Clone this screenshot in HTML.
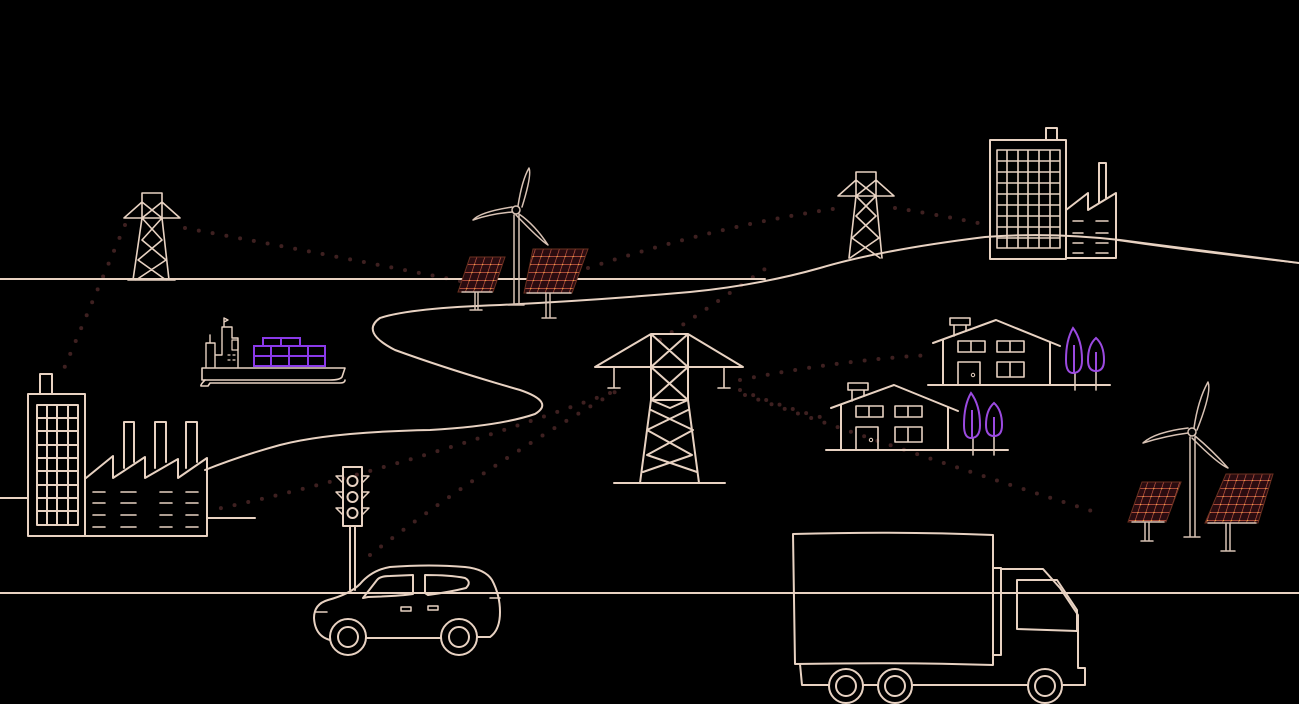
<!DOCTYPE html>
<html><head><meta charset="utf-8"><style>html,body{margin:0;padding:0;background:#000;width:1299px;height:704px;overflow:hidden}</style></head>
<body>
<svg width="1299" height="704" viewBox="0 0 1299 704" xmlns="http://www.w3.org/2000/svg">
<defs>
<pattern id="pg" width="8" height="8" patternUnits="userSpaceOnUse" patternTransform="skewX(-18)">
<rect width="8" height="8" fill="#2a0c10"/>
<path d="M0 0H8M0 0V8" stroke="#d8604a" stroke-width="1.3"/>
<circle cx="0" cy="0" r="1.3" fill="#f0b040"/>
</pattern>
</defs>
<rect width="1299" height="704" fill="#000"/>

<g fill="none" stroke="#3e2020" stroke-width="4" stroke-linecap="round" stroke-dasharray="0 14">
<path d="M125 225 L60 378"/>
<path d="M185 228 Q330 255 470 283"/>
<path d="M588 268 Q720 225 840 208"/>
<path d="M895 208 Q940 215 988 225"/>
<path d="M610 393 Q400 470 212 510"/>
<path d="M370 555 Q480 470 615 392"/>
<path d="M660 340 Q720 300 775 262"/>
<path d="M740 380 Q840 360 930 355"/>
<path d="M740 390 Q790 410 832 420"/>
<path d="M745 395 Q930 460 1095 512"/>
</g>

<g fill="none" stroke="#e8d2c2" stroke-width="2" stroke-linejoin="round" stroke-linecap="round">
<path d="M0 279 L765 279"/>
<path d="M1299 263 Q1200 250 1120 240 Q1050 232 985 237 Q880 250 820 268 Q760 285 690 292 Q600 300 500 305 Q410 308 380 318 Q360 332 395 350 Q450 370 520 390 Q555 402 535 414 Q500 426 430 430 Q330 432 280 445 Q240 456 205 470"/>
<path d="M0 498 L28 498"/><path d="M207 518 L255 518"/>
<path d="M0 593 L1299 593"/>

<path d="M28 394 L85 394 L85 536 L28 536 Z"/>
<path d="M40 394 V374 H52 V394"/>
<path d="M37 405 H78 V525 H37 Z M47 405V525 M57 405V525 M68 405V525 M37 418H78 M37 431H78 M37 445H78 M37 458H78 M37 471H78 M37 485H78 M37 498H78 M37 511H78"/>
<path d="M86 478 L113 456 L113 478 L145 457 L145 478 L178 459 L178 478 L207 458 L207 536 L85 536"/>
<path d="M124 468 V422 H134 V462 M155 468 V422 H166 V462 M186 468 V422 H197 V462"/>
<path d="M93 492h12M121 492h15M160 492h12M186 492h12M93 503h12M121 503h15M160 503h12M186 503h12M93 515h12M121 515h15M160 515h12M186 515h12M93 527h12M121 527h15M160 527h12M186 527h12" stroke-width="1.6"/>

<path d="M202 368 H345 L342 377 Q340 380 330 380 H202 Z" stroke-width="1.6"/>
<path d="M205 380 Q200 385 201 386 L208 386 L210 383 H340 Q345 383 345 380" stroke-width="1.6"/>
<path d="M206 367 V343 H210 V335 M210 343 H215 V367 M216 355 H222 V327 H232 V338 H238 V355 V367 M224 327 V318 L228 320 L224 322" stroke-width="1.4"/>
<path d="M232 340 H238 V350 H232 Z M228 355 h2 M233 355 h2 M228 360 h2 M233 360 h2" stroke-width="1.2"/>

<path d="M142 193 H162 M142 193 L142 218 L133 280 M162 193 L162 218 L169 280 M142 202 L124 218 H180 L162 202 M142 218 L162 240 L138 260 L166 280 M162 218 L142 240 L166 260 L136 280 M142 202 L162 218 M162 202 L142 218 M128 280 H175" stroke-width="1.6"/>
<path d="M856 172 H876 M856 172 L856 196 L849 258 M876 172 L876 196 L882 258 M856 180 L838 196 H894 L876 180 M856 196 L876 216 L852 238 L880 258 M876 196 L856 216 L879 238 L850 258 M856 180 L876 196 M876 180 L856 196" stroke-width="1.6"/>

<path d="M651 334 H688 M651 334 L595 367 H743 L688 334 M651 334 V400 L640 483 M688 334 V400 L699 483 M651 334 L688 367 L651 400 M688 334 L651 367 L688 400 M651 400 H688 M651 400 L670 408 L688 400 M647 430 L692 455 L643 472 M693 430 L647 455 L697 472 M651 410 L693 430 M688 410 L647 430 M614 483 H725"/>
<path d="M614 367 V388 M608 388 H620 M724 367 V388 M718 388 H730" stroke-width="1.6"/>

<path d="M990 140 H1066 V259 H990 Z M1046 140 V128 H1057 V140"/>
<path d="M997 150 H1060 V248 H997 Z M1007 150V248 M1018 150V248 M1028 150V248 M1039 150V248 M1050 150V248 M997 161H1060 M997 172H1060 M997 183H1060 M997 194H1060 M997 205H1060 M997 216H1060 M997 227H1060 M997 238H1060" stroke-width="1.6"/>
<path d="M1066 210 L1088 193 L1088 210 L1116 193 L1116 258 L1066 258 M1099 203 V163 H1106 V198"/>
<path d="M1073 221h10M1096 221h12M1073 233h10M1096 233h12M1073 243h10M1096 243h12M1073 253h10M1096 253h12" stroke-width="1.5"/>
<path d="M1116 240 Q1200 252 1299 263" stroke-width="1.6"/>

<path d="M343 467 H362 V526 H343 Z M350 526 V590 M355 526 V590"/>
<circle cx="352.5" cy="481" r="5"/><circle cx="352.5" cy="497" r="5"/><circle cx="352.5" cy="513" r="5"/>
<path d="M343 476 H336 L343 483 M362 476 H369 L362 483 M343 492 H336 L343 499 M362 492 H369 L362 499 M343 508 H336 L343 515 M362 508 H369 L362 515" stroke-width="1.5"/>

<path d="M330 640 Q315 636 314 618 Q314 604 328 600 Q350 594 360 584 Q372 570 390 567 Q430 564 465 567 Q485 569 492 580 Q500 595 500 612 Q500 630 490 637 H477 M441 638 H366 M330 640 H330"/>
<path d="M363 598 L377 580 Q380 576 390 576 L413 575 V594 Q400 596 368 597 Z M425 575 Q450 575 465 578 Q472 582 466 588 Q450 592 428 595 L425 593 Z"/>
<path d="M401 607 h10 v4 h-10 z M428 606 h10 v4 h-10 z" stroke-width="1.5"/>
<path d="M315 612 h12 M490 598 h10" stroke-width="1.5"/>
<circle cx="348" cy="637" r="18"/><circle cx="348" cy="637" r="10"/>
<circle cx="459" cy="637" r="18"/><circle cx="459" cy="637" r="10"/>

<path d="M793 534 Q900 531 993 535 V665 Q900 662 795 664 Z"/>
<path d="M993 568 H1001 M993 655 H1001 V569 H1043 L1060 588 L1078 615 V667"/>
<path d="M1017 580 H1057 L1077 610 V631 L1017 629 Z"/>
<path d="M800 664 L802 685 H828 M864 685 H877 M913 685 H1027 M1063 685 H1085 V668 H1078"/>
<circle cx="846" cy="686" r="17"/><circle cx="846" cy="686" r="10"/>
<circle cx="895" cy="686" r="17"/><circle cx="895" cy="686" r="10"/>
<circle cx="1045" cy="686" r="17"/><circle cx="1045" cy="686" r="10"/>

<g id="house">
<path d="M933 343 L996 320 L1060 346 M943 340 V385 H1050 V342 M928 385 H943 M1050 385 H1110"/>
<path d="M950 318 H970 V325 H950 Z M954 325 V336 M966 325 V331" stroke-width="1.6"/>
<path d="M958 341 H985 V352 H958 Z M971 341 V352 M997 341 H1024 V352 H997 Z M1010 341 V352 M997 362 H1024 V377 H997 Z M1010 362 V377 M958 385 V362 H980 V385" stroke-width="1.6"/>
<circle cx="973" cy="375" r="1.7" stroke-width="1"/>
<path d="M1075 373 V390 M1096 371 V390" stroke-width="1.5"/>
</g>
<use href="#house" transform="translate(-102 65)"/>
</g>

<g fill="none" stroke="#9b4ae0" stroke-width="2">
<path d="M1073 328 Q1066 340 1066 360 Q1066 373 1073 373 Q1082 373 1082 360 Q1082 340 1073 328 Z M1074 345 V373"/>
<path d="M1096 338 Q1088 345 1088 360 Q1088 371 1096 371 Q1104 371 1104 360 Q1104 345 1096 338 Z M1096 352 V371"/>
<path d="M971 393 Q964 405 964 425 Q964 438 971 438 Q980 438 980 425 Q980 405 971 393 Z M972 410 V438"/>
<path d="M994 403 Q986 410 986 425 Q986 436 994 436 Q1002 436 1002 425 Q1002 410 994 403 Z M994 417 V436"/>
<path d="M254 346 H325 V366 H254 Z M254 356 H325 M271 346 V366 M289 346 V366 M308 346 V366 M263 346 V338 H300 V346 M281 338 V346" stroke="#8a3ae8"/>
</g>

<g stroke="#6a3020" stroke-width="1">
<polygon points="470,257 505,257 493,292 458,292" fill="url(#pg)"/>
<polygon points="533,249 588,249 572,293 524,293" fill="url(#pg)"/>
<polygon points="1142,482 1181,482 1166,522 1128,522" fill="url(#pg)"/>
<polygon points="1226,474 1273,474 1258,523 1205,523" fill="url(#pg)"/>
</g>

<g fill="none" stroke="#d8c2b4" stroke-width="1.5" stroke-linecap="round" stroke-linejoin="round">
<path d="M462 292 h30 M475 292 V310 M478 292 V310 M470 310 h12"/>
<path d="M527 293 h44 M546 293 V318 M550 293 V318 M542 318 h14"/>
<path d="M514 215 V305 M519 215 V305 M508 305 h16"/>
<circle cx="516" cy="210" r="4"/>
<path d="M518 206 Q522 180 529 168 Q532 175 522 207 M512 212 Q490 214 473 220 Q480 212 512 207 M519 214 Q535 225 548 245 Q540 240 516 215"/>
<path d="M1132 522 h32 M1145 522 V540 M1149 522 V540 M1141 541 h12"/>
<path d="M1208 523 h48 M1226 523 V550 M1230 523 V550 M1221 551 h14"/>
<path d="M1190 437 V537 M1195 437 V537 M1184 537 h16"/>
<circle cx="1192" cy="432" r="4"/>
<path d="M1194 428 Q1198 400 1208 382 Q1212 392 1197 430 M1188 433 Q1165 436 1143 443 Q1155 432 1188 428 M1195 436 Q1212 450 1228 468 Q1218 464 1192 438"/>
</g>
</svg>
</body></html>
